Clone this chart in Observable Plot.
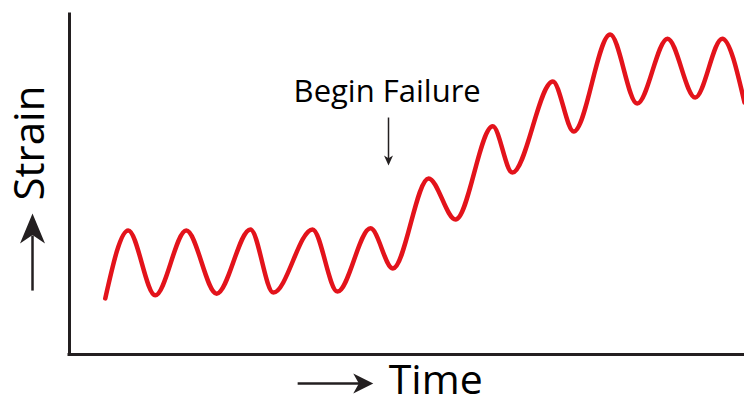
<!DOCTYPE html>
<html>
<head>
<meta charset="utf-8">
<script src="https://cdn.jsdelivr.net/npm/d3@7"></script>
<script src="https://cdn.jsdelivr.net/npm/@observablehq/plot@0.6"></script>
<style>
  html, body { margin: 0; padding: 0; background: #fff; }
  #chart { width: 744px; height: 401px; }
</style>
</head>
<body>
<div id="chart"></div>
<script>
// Time (0..100) and strain (0..100) read at the curve's start, peaks, troughs and end
const time   = [5.3, 8.7, 12.7, 17.3, 21.8, 26.8, 30.2, 36.0, 39.7, 44.6, 47.9, 53.2, 57.2, 62.7, 65.6, 71.6, 74.7, 80.1, 84.1, 88.6, 92.7, 96.7, 100];
const strain = [16.5, 36.5, 17.4, 36.5, 17.9, 36.8, 18.2, 36.8, 18.5, 37.1, 25.3, 51.8, 39.7, 67.1, 53.5, 80.3, 65.6, 94.1, 73.8, 92.9, 75.6, 92.9, 74.1];
const labels = { x: "Time", y: "Strain", note: "Begin Failure" };

const curve = time.map((t, i) => ({ t, s: strain[i] }));

// filled, swept arrowhead with its tip at the origin, pointing up
function arrowHead(len, half) {
  return {
    draw(ctx) {
      ctx.moveTo(0, 0);
      ctx.lineTo(half, len);
      ctx.lineTo(0, len * 0.72);
      ctx.lineTo(-half, len);
      ctx.closePath();
    }
  };
}

const ink = "#231f20";
const font = "'Open Sans', 'Noto Sans', sans-serif";

const chart = Plot.plot({
  width: 744,
  height: 401,
  marginLeft: 69,
  marginRight: 0,
  marginTop: 14,
  marginBottom: 47,
  x: { domain: [0, 100], axis: null },
  y: { domain: [0, 100], axis: null },
  style: { fontFamily: font, background: "#fff" },
  marks: [
    // axis frame
    Plot.ruleX([0], { y1: 0, y2: 100, stroke: ink, strokeWidth: 3, strokeLinecap: "square" }),
    Plot.ruleY([0], { x1: 0, x2: 100, stroke: ink, strokeWidth: 3, strokeLinecap: "square" }),
    // strain curve
    Plot.line(curve, { x: "t", y: "s", curve: "monotone-x", stroke: "#e3131b", strokeWidth: 4.5, strokeLinecap: "round", strokeLinejoin: "round" }),
    // Time label and arrow
    Plot.text([labels.x], { x: 47.3, y: -7.8, text: d => d, textAnchor: "start", lineAnchor: "middle", fontSize: 41, fill: "#000" }),
    Plot.link([0], { x1: 33.8, x2: 43.5, y1: -8.5, y2: -8.5, stroke: ink, strokeWidth: 2.5 }),
    Plot.dot([0], { x: 45.0, y: -8.5, symbol: arrowHead(20, 10), rotate: 90, fill: ink, stroke: "none" }),
    // Strain label and arrow
    Plot.text([labels.y], { x: -5.8, y: 45.3, text: d => d, rotate: -90, textAnchor: "start", lineAnchor: "middle", fontSize: 42, fill: "#000" }),
    Plot.link([0], { x1: -5.48, x2: -5.48, y1: 18.8, y2: 35.0, stroke: ink, strokeWidth: 2.5 }),
    Plot.dot([0], { x: -5.48, y: 41.5, symbol: arrowHead(30, 12.5), rotate: 0, fill: ink, stroke: "none" }),
    // Begin Failure annotation
    Plot.text([labels.note], { x: 33.2, y: 77.1, text: d => d, textAnchor: "start", lineAnchor: "middle", fontSize: 31, fill: "#000" }),
    Plot.link([0], { x1: 47.26, x2: 47.26, y1: 69.7, y2: 57.5, stroke: ink, strokeWidth: 1.5 }),
    Plot.dot([0], { x: 47.26, y: 55.6, symbol: arrowHead(10, 4.5), rotate: 180, fill: ink, stroke: "none" })
  ]
});

document.getElementById("chart").appendChild(chart);
</script>
</body>
</html>
